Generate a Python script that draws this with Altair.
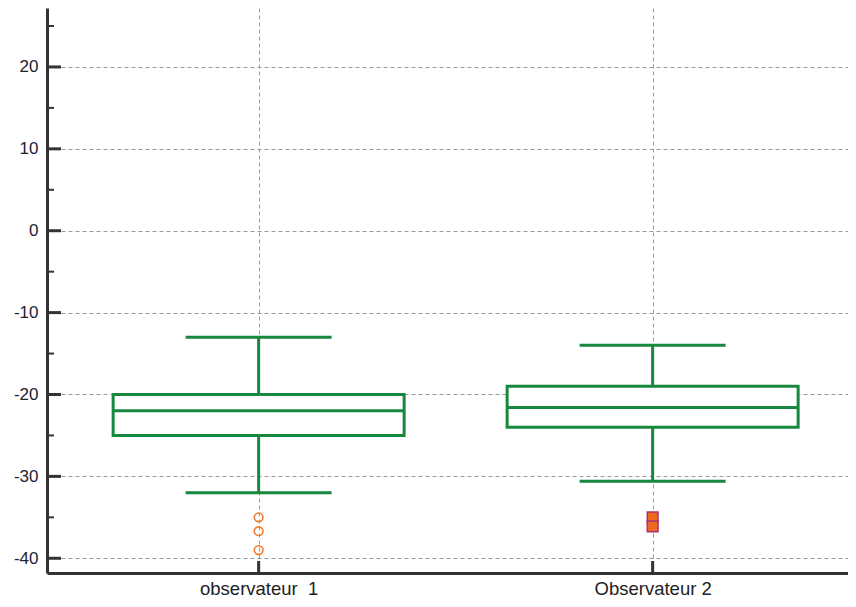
import altair as alt
import pandas as pd

categories = ["observateur \u00a01", "Observateur 2"]
q1 = [-25.0, -24.0]
median = [-22.0, -21.6]
q3 = [-20.0, -19.0]
whisker_low = [-32.0, -30.6]
whisker_high = [-13.0, -14.0]
outliers_1 = [-35.0, -36.7, -39.0]
outliers_2 = [-35.0, -36.1]
major_ticks = [-40, -30, -20, -10, 0, 10, 20]
minor_ticks = [-35, -25, -15, -5, 5, 15, 25]
y_domain = [-41.8, 27.2]

W, H = 801, 565
GREEN = "#17893F"
AXIS_C = "#333333"

box_df = pd.DataFrame({"cat": categories, "q1": q1, "median": median, "q3": q3,
                       "lo": whisker_low, "hi": whisker_high})
out1 = pd.DataFrame({"cat": [categories[0]] * len(outliers_1), "v": outliers_1})
out2 = pd.DataFrame({"cat": [categories[1]] * len(outliers_2), "v": outliers_2})
maj_df = pd.DataFrame({"v": major_ticks})
min_df = pd.DataFrame({"v": minor_ticks})
cat_df = pd.DataFrame({"cat": categories})

xscale = alt.Scale(type="point", domain=categories, padding=0.5165, align=0.52)
yscale = alt.Scale(domain=y_domain, nice=False, zero=False)

xaxis = alt.Axis(title=None, labelAngle=0, ticks=False, grid=True, gridDash=[4, 3],
                 gridColor="#9a9a9a", gridWidth=1, domainColor=AXIS_C, domainWidth=3,
                 labelFontSize=18.5, labelColor="#222222", labelFont="Liberation Sans",
                 labelPadding=6)
yaxis = alt.Axis(title=None, values=major_ticks, ticks=False, grid=True, gridDash=[4, 3],
                 gridColor="#9a9a9a", gridWidth=1, domainColor=AXIS_C, domainWidth=3,
                 labelFontSize=17, labelColor="#222233", labelFont="Liberation Sans",
                 labelPadding=9,
                 labelExpr="replace(datum.label, '\u2212', '-')")


def X(field="cat:N"):
    return alt.X(field, scale=xscale, axis=xaxis)


def Y(field):
    return alt.Y(field, scale=yscale, axis=yaxis)


whisk_lo = alt.Chart(box_df).mark_rule(color=GREEN, strokeWidth=3).encode(
    x=X(), y=Y("lo:Q"), y2="q1:Q")
whisk_hi = alt.Chart(box_df).mark_rule(color=GREEN, strokeWidth=3).encode(
    x=X(), y=Y("q3:Q"), y2="hi:Q")
box = alt.Chart(box_df).mark_bar(size=291, fill="white", stroke=GREEN, strokeWidth=3,
                                 opacity=1).encode(x=X(), y=Y("q1:Q"), y2="q3:Q")
med = alt.Chart(box_df).mark_tick(size=291, thickness=3, color=GREEN, opacity=1).encode(
    x=X(), y=Y("median:Q"))
cap_lo = alt.Chart(box_df).mark_tick(size=146, thickness=3, color=GREEN, opacity=1).encode(
    x=X(), y=Y("lo:Q"))
cap_hi = alt.Chart(box_df).mark_tick(size=146, thickness=3, color=GREEN, opacity=1).encode(
    x=X(), y=Y("hi:Q"))
pts1 = alt.Chart(out1).mark_point(shape="circle", filled=False, stroke="#F07A30",
                                  strokeWidth=1.6, size=75, opacity=1).encode(
    x=X(), y=Y("v:Q"))
pts2 = alt.Chart(out2).mark_square(size=115, fill="#EE6A1E", stroke="#A8327A",
                                   strokeWidth=1.5, opacity=1).encode(
    x=X(), y=Y("v:Q"))
maj = alt.Chart(maj_df).mark_rule(color=AXIS_C, strokeWidth=3).encode(
    y=Y("v:Q"), x=alt.value(0), x2=alt.value(14))
mino = alt.Chart(min_df).mark_rule(color=AXIS_C, strokeWidth=2).encode(
    y=Y("v:Q"), x=alt.value(0), x2=alt.value(7))
xt = alt.Chart(cat_df).mark_rule(color=AXIS_C, strokeWidth=3).encode(
    x=X(), y=alt.value(H), y2=alt.value(H - 12))

chart = alt.layer(whisk_lo, whisk_hi, box, med, cap_lo, cap_hi, pts1, pts2, maj, mino, xt).properties(
    width=W, height=H,
    background="white",
    autosize=alt.AutoSizeParams(type="none"),
    padding={"left": 39, "top": 0, "right": 0, "bottom": 26},
).configure_view(stroke=None)

chart.save("out.html", embed_options={"renderer": "svg", "actions": False})
